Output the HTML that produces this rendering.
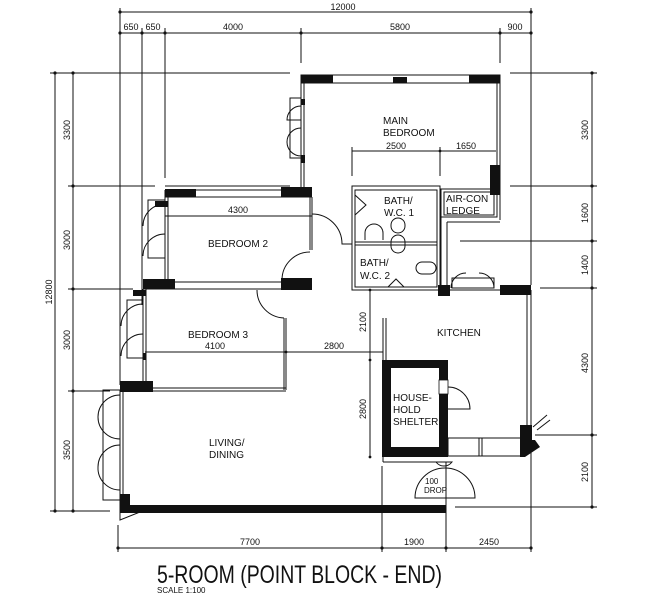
<!DOCTYPE html>
<html><head><meta charset="utf-8"><style>
html,body{margin:0;padding:0;background:#fff;}
svg{display:block;}
text{font-family:"Liberation Sans Narrow","Liberation Sans",sans-serif;fill:#111;}
</style></head><body>
<svg width="646" height="600" viewBox="0 0 646 600" xmlns="http://www.w3.org/2000/svg">
<g stroke="#111" stroke-width="1" fill="none">
<line x1="120" y1="12" x2="531" y2="12"/>
<line x1="120" y1="33" x2="531" y2="33"/>
<line x1="120" y1="8" x2="120" y2="385"/>
<line x1="142" y1="28" x2="142" y2="305"/>
<line x1="165" y1="28" x2="165" y2="178"/>
<line x1="301" y1="28" x2="301" y2="63"/>
<line x1="500" y1="28" x2="500" y2="63"/>
<line x1="531" y1="8" x2="531" y2="285"/>
<line x1="531" y1="450" x2="531" y2="552"/>
<line x1="55" y1="73" x2="55" y2="511"/>
<line x1="73" y1="73" x2="73" y2="511"/>
<line x1="50" y1="73" x2="290" y2="73"/>
<line x1="68" y1="186" x2="155" y2="186"/>
<line x1="68" y1="289" x2="133" y2="289"/>
<line x1="68" y1="391" x2="110" y2="391"/>
<line x1="50" y1="511" x2="110" y2="511"/>
<line x1="165" y1="186" x2="290" y2="186"/>
<line x1="592" y1="73" x2="592" y2="507"/>
<line x1="510" y1="73" x2="597" y2="73"/>
<line x1="510" y1="186" x2="597" y2="186"/>
<line x1="460" y1="241" x2="597" y2="241"/>
<line x1="540" y1="288" x2="597" y2="288"/>
<line x1="535" y1="435" x2="597" y2="435"/>
<line x1="455" y1="507" x2="597" y2="507"/>
<line x1="118" y1="548" x2="531" y2="548"/>
<line x1="118" y1="525" x2="118" y2="552"/>
<line x1="382" y1="466" x2="382" y2="552"/>
<line x1="446" y1="512" x2="446" y2="552"/>
<line x1="352" y1="151" x2="496" y2="151"/>
<line x1="352" y1="147" x2="352" y2="176"/>
<line x1="440" y1="147" x2="440" y2="176"/>
<line x1="165" y1="216" x2="312" y2="216"/>
<line x1="145" y1="352" x2="383" y2="352"/>
<line x1="370" y1="290" x2="370" y2="457"/>
</g>
<g fill="#111">
<circle cx="120" cy="12" r="1.6"/><circle cx="531" cy="12" r="1.6"/>
<circle cx="120" cy="33" r="1.6"/><circle cx="142" cy="33" r="1.6"/><circle cx="165" cy="33" r="1.6"/><circle cx="301" cy="33" r="1.6"/><circle cx="500" cy="33" r="1.6"/><circle cx="531" cy="33" r="1.6"/>
<circle cx="55" cy="73" r="1.6"/><circle cx="55" cy="511" r="1.6"/>
<circle cx="73" cy="73" r="1.6"/><circle cx="73" cy="186" r="1.6"/><circle cx="73" cy="289" r="1.6"/><circle cx="73" cy="391" r="1.6"/><circle cx="73" cy="511" r="1.6"/>
<circle cx="592" cy="73" r="1.6"/><circle cx="592" cy="186" r="1.6"/><circle cx="592" cy="241" r="1.6"/><circle cx="592" cy="288" r="1.6"/><circle cx="592" cy="435" r="1.6"/><circle cx="592" cy="507" r="1.6"/>
<circle cx="118" cy="548" r="1.6"/><circle cx="382" cy="548" r="1.6"/><circle cx="446" cy="548" r="1.6"/><circle cx="531" cy="548" r="1.6"/>
<circle cx="370" cy="290" r="1.4"/><circle cx="370" cy="360" r="1.4"/><circle cx="370" cy="457" r="1.4"/>
<circle cx="440" cy="151" r="1.4"/><circle cx="286" cy="352" r="1.4"/>
</g>
<g stroke="#111" stroke-width="1" fill="none">
<rect x="301" y="75" width="199" height="8"/>
<line x1="301" y1="83" x2="301" y2="190"/><line x1="304" y1="83" x2="304" y2="190"/>
<line x1="497" y1="83" x2="497" y2="215"/><line x1="500" y1="83" x2="500" y2="220"/>
<rect x="290" y="98" width="11" height="60"/>
<path d="M301 106 A14 14 0 0 0 287 120 L301 120 M301 128 A14 14 0 0 0 287 142 M301 156 A14 14 0 0 1 287 142"/>
<line x1="165" y1="190" x2="312" y2="190"/><line x1="165" y1="197" x2="312" y2="197"/>
<line x1="165" y1="190" x2="165" y2="282"/><line x1="168" y1="197" x2="168" y2="282"/>
<line x1="310" y1="197" x2="310" y2="250"/><line x1="312" y1="197" x2="312" y2="250"/>
<path d="M312 214 A30 30 0 0 1 342 244 L352 244"/>
<path d="M282 280 A28 28 0 0 1 310 252"/>
<rect x="148" y="200" width="17" height="58"/>
<path d="M165 204 A22 22 0 0 0 143 226 M165 234 A22 22 0 0 0 143 256"/>
<line x1="143" y1="289" x2="312" y2="289"/><line x1="143" y1="282" x2="312" y2="282"/>
<line x1="143" y1="289" x2="143" y2="385"/><line x1="146" y1="289" x2="146" y2="385"/>
<line x1="146" y1="388" x2="286" y2="388"/><line x1="146" y1="391" x2="286" y2="391"/>
<line x1="284" y1="318" x2="284" y2="390"/><line x1="286" y1="318" x2="286" y2="390"/>
<path d="M257 290 A28 28 0 0 0 284 318"/>
<rect x="127" y="300" width="16" height="58"/>
<path d="M143 304 A22 22 0 0 0 121 326 M143 334 A22 22 0 0 0 121 356"/>
<line x1="120" y1="390" x2="120" y2="512"/><line x1="123" y1="390" x2="123" y2="505"/>
<rect x="103" y="390" width="17" height="110"/>
<path d="M120 395 A22 22 0 0 0 98 417 M120 439 A22 22 0 0 1 98 417 M120 445 A22 22 0 0 0 98 467 M120 490 A22 22 0 0 1 98 467"/>
<path d="M120 512 L120 520 L150 508"/>
<rect x="352" y="186" width="88" height="104"/>
<rect x="355" y="190" width="82" height="97"/>
<line x1="355" y1="242" x2="437" y2="242"/><line x1="355" y1="245" x2="437" y2="245"/>
<path d="M355 195 L366 205 L355 215"/>
<path d="M365 240 L365 233 A9 9 0 0 1 383 233 L383 240"/>
<rect x="391" y="218" width="14" height="15" rx="7"/>
<rect x="391" y="235" width="14" height="18" rx="7"/>
<rect x="416" y="262" width="20" height="12" rx="6"/>
<path d="M388 287 L396 279 L404 287"/>
<rect x="441" y="189" width="56" height="28"/><rect x="444" y="192" width="50" height="23"/>
<line x1="441" y1="217" x2="441" y2="288"/><line x1="447" y1="222" x2="447" y2="288"/>
<line x1="447" y1="222" x2="500" y2="222"/>
<path d="M451 288 A15 15 0 0 1 466 273 M479 273 A15 15 0 0 1 494 288"/>
<rect x="452" y="278" width="42" height="10"/>
<line x1="438" y1="290" x2="531" y2="290"/>
<line x1="527" y1="290" x2="527" y2="425"/><line x1="531" y1="290" x2="531" y2="425"/>
<line x1="383" y1="318" x2="383" y2="360"/><line x1="386" y1="318" x2="386" y2="360"/>
<rect x="448" y="438" width="75" height="18"/>
<line x1="479" y1="438" x2="479" y2="456"/><line x1="482" y1="438" x2="482" y2="456"/>
<line x1="533" y1="427" x2="547" y2="415"/><line x1="537" y1="430" x2="550" y2="420"/>
<path d="M448 387 A22 22 0 0 1 470 409 L448 409"/>
<line x1="383" y1="457" x2="383" y2="462"/><line x1="383" y1="462" x2="446" y2="462"/>
<path d="M436 462 L452 462 A10 10 0 0 1 436 462"/>
<path d="M415 498 A30 30 0 0 1 475 498 Z"/>
<line x1="446" y1="462" x2="446" y2="520"/>
</g>
<g fill="#111">
<rect x="301" y="75" width="32" height="8"/><rect x="393" y="77" width="14" height="6"/><rect x="469" y="75" width="31" height="8"/>
<rect x="301" y="99" width="4" height="6"/><rect x="301" y="155" width="4" height="8"/>
<rect x="490" y="165" width="10" height="30"/>
<rect x="165" y="189" width="31" height="8"/><rect x="281" y="187" width="31" height="10"/>
<rect x="155" y="201" width="13" height="6"/>
<rect x="143" y="279" width="32" height="10"/><rect x="281" y="278" width="31" height="12"/>
<rect x="133" y="290" width="13" height="6"/><rect x="143" y="353" width="3" height="7"/>
<rect x="120" y="381" width="33" height="11"/>
<rect x="120" y="494" width="10" height="18"/>
<rect x="120" y="505" width="326" height="8"/>
<rect x="438" y="285" width="12" height="11"/><rect x="500" y="285" width="31" height="10"/>
<rect x="520" y="425" width="12" height="25"/>
<polygon points="520,440 535,440 540,447 525,457 520,457"/>
<path d="M382 360 H448 V457 H382 Z M391 368 V447 H439 V368 Z" fill-rule="evenodd"/>
</g>
<rect x="439" y="380" width="9" height="14" fill="#fff" stroke="#111" stroke-width="0.8"/>
<g font-size="9">
<text x="343" y="10" text-anchor="middle">12000</text>
<text x="131" y="30" text-anchor="middle">650</text>
<text x="153" y="30" text-anchor="middle">650</text>
<text x="233" y="30" text-anchor="middle">4000</text>
<text x="400" y="30" text-anchor="middle">5800</text>
<text x="515" y="30" text-anchor="middle">900</text>
<text x="396" y="149" text-anchor="middle">2500</text>
<text x="466" y="149" text-anchor="middle">1650</text>
<text x="238" y="213" text-anchor="middle">4300</text>
<text x="215" y="349" text-anchor="middle">4100</text>
<text x="334" y="349" text-anchor="middle">2800</text>
<text x="250" y="545" text-anchor="middle">7700</text>
<text x="414" y="545" text-anchor="middle">1900</text>
<text x="489" y="545" text-anchor="middle">2450</text>
<text transform="translate(70,130) rotate(-90)" text-anchor="middle">3300</text>
<text transform="translate(70,240) rotate(-90)" text-anchor="middle">3000</text>
<text transform="translate(70,340) rotate(-90)" text-anchor="middle">3000</text>
<text transform="translate(70,450) rotate(-90)" text-anchor="middle">3500</text>
<text transform="translate(52,292) rotate(-90)" text-anchor="middle">12800</text>
<text transform="translate(588,130) rotate(-90)" text-anchor="middle">3300</text>
<text transform="translate(588,213) rotate(-90)" text-anchor="middle">1600</text>
<text transform="translate(588,265) rotate(-90)" text-anchor="middle">1400</text>
<text transform="translate(588,363) rotate(-90)" text-anchor="middle">4300</text>
<text transform="translate(588,472) rotate(-90)" text-anchor="middle">2100</text>
<text transform="translate(366,322) rotate(-90)" text-anchor="middle">2100</text>
<text transform="translate(366,409) rotate(-90)" text-anchor="middle">2800</text>
</g>
<g font-size="10">
<text x="383" y="124">MAIN</text><text x="383" y="136">BEDROOM</text>
<text x="208" y="247">BEDROOM  2</text>
<text x="384" y="204">BATH/</text><text x="384" y="216">W.C.  1</text>
<text x="446" y="202">AIR-CON</text><text x="446" y="214">LEDGE</text>
<text x="360" y="266">BATH/</text><text x="360" y="279">W.C.  2</text>
<text x="188" y="338">BEDROOM  3</text>
<text x="437" y="336">KITCHEN</text>
<text x="393" y="401">HOUSE-</text><text x="393" y="413">HOLD</text><text x="393" y="425">SHELTER</text>
<text x="209" y="446">LIVING/</text><text x="209" y="458">DINING</text>
</g>
<g font-size="8"><text x="425" y="484">100</text><text x="424" y="493">DROP</text></g>
<text x="157" y="583" font-size="25" textLength="285" lengthAdjust="spacingAndGlyphs">5-ROOM (POINT BLOCK - END)</text>
<text x="157" y="593" font-size="8">SCALE  1:100</text>
</svg>
</body></html>
